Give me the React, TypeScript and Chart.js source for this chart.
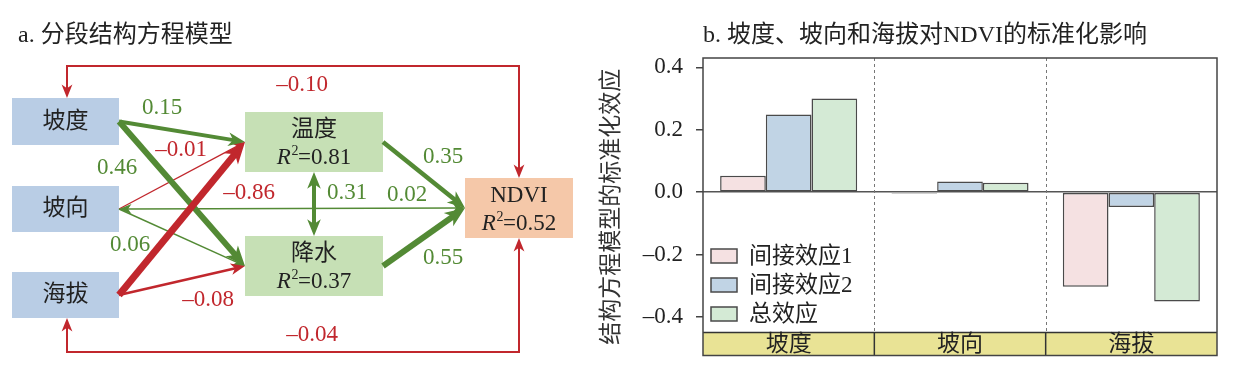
import React, { useEffect, useRef } from 'react';
import { Chart, registerables } from 'chart.js';

Chart.register(...registerables);

const SERIF = '"Liberation Serif", "Noto Sans CJK SC", serif';

// ---------------- Panel a: path diagram data ----------------
const nodeNames = ['坡度', '坡向', '海拔', '温度', '降水', 'NDVI'];
const nodeR2 = ['', '', '', '0.81', '0.37', '0.52'];
// layout of boxes in diagram units
const nodeLeft = [12, 12, 12, 245, 245, 465];
const nodeTop = [98, 186, 272, 112, 236, 178];
const nodeWidth = [107, 107, 107, 138, 138, 108];
const nodeHeight = [47, 46, 46, 60, 60, 60];
const nodeFill = ['#B9CDE5', '#B9CDE5', '#B9CDE5', '#C6E0B5', '#C6E0B5', '#F5C8A9'];

const edgeFrom = [1, 1, 1, 0, 0, 2, 2, 3, 3, 4, 5, 5];
const edgeTo = [3, 4, 5, 3, 4, 4, 3, 4, 5, 5, 0, 2];
const edgeCoef = [-0.01, 0.06, 0.02, 0.15, 0.46, -0.08, -0.86, 0.31, 0.35, 0.55, -0.1, -0.04];
const edgeRoute = ['lr', 'lr', 'lr', 'lr', 'lr', 'lr', 'lr', 'tb', 'lr', 'lr', 'loopTop', 'loopBottom'];
const edgeHeads = ['end', 'end', 'both', 'end', 'end', 'end', 'end', 'both', 'end', 'end', 'both', 'both'];
// styles / label placement
const edgeWidth = [1.3, 1.5, 1.5, 4, 6, 2.5, 7, 4, 4.5, 6, 2, 2];
const labelX = [181, 130, 407, 162, 117, 208, 249, 347, 443, 443, 302, 312];
const labelY = [150, 245, 195, 108, 168, 300, 193, 193, 157, 258, 85, 335];
const loopLevelTop = 66;
const loopLevelBottom = 352;

const GREEN = '#538A35';
const RED = '#C1272D';

// ---------------- Panel b: bar chart data ----------------
const categories = ['坡度', '坡向', '海拔'];
const seriesNames = ['间接效应1', '间接效应2', '总效应'];
const indirect1 = [0.053, -0.004, -0.303];
const indirect2 = [0.249, 0.034, -0.047];
const totalEffect = [0.3, 0.03, -0.35];
const yTickValues = [0.4, 0.2, 0, -0.2, -0.4];
const yAxisTitle = '结构方程模型的标准化效应';
const Y_MAX = 0.43;
const Y_MIN = -0.523;

const seriesFill = ['#F5E1E2', '#C1D4E5', '#D4EAD5'];
const BAR_BORDER = '#4a4a4a';

function fmtNum(v: number, digits: number) {
  if (Math.abs(v) < 1e-9) return (0).toFixed(digits);
  return (v < 0 ? '–' : '') + Math.abs(v).toFixed(digits);
}

type P = { x: number; y: number };

function moveToward(a: P, b: P, d: number): P {
  const dx = b.x - a.x;
  const dy = b.y - a.y;
  const L = Math.hypot(dx, dy) || 1;
  return { x: a.x + (dx / L) * d, y: a.y + (dy / L) * d };
}

function drawHead(ctx: CanvasRenderingContext2D, tip: P, prev: P, hl: number, hw: number, color: string) {
  const dx = tip.x - prev.x;
  const dy = tip.y - prev.y;
  const L = Math.hypot(dx, dy) || 1;
  const ux = dx / L;
  const uy = dy / L;
  const px = -uy;
  const py = ux;
  const bx = tip.x - ux * hl;
  const by = tip.y - uy * hl;
  const nx = tip.x - ux * hl * 0.72;
  const ny = tip.y - uy * hl * 0.72;
  ctx.beginPath();
  ctx.moveTo(tip.x, tip.y);
  ctx.lineTo(bx + (px * hw) / 2, by + (py * hw) / 2);
  ctx.lineTo(nx, ny);
  ctx.lineTo(bx - (px * hw) / 2, by - (py * hw) / 2);
  ctx.closePath();
  ctx.fillStyle = color;
  ctx.fill();
}

function drawArrowPath(ctx: CanvasRenderingContext2D, pts: P[], w: number, color: string, heads: string) {
  const hl = 10 + 1.7 * w;
  const hw = 8 + 1.4 * w;
  const line = pts.map((p) => ({ ...p }));
  const n = pts.length;
  const startHead = heads === 'both' || heads === 'start';
  const endHead = heads === 'both' || heads === 'end';
  if (endHead) line[n - 1] = moveToward(pts[n - 1], pts[n - 2], hl * 0.6);
  if (startHead) line[0] = moveToward(pts[0], pts[1], hl * 0.6);
  ctx.save();
  ctx.strokeStyle = color;
  ctx.lineWidth = w;
  ctx.lineCap = 'butt';
  ctx.lineJoin = 'miter';
  ctx.beginPath();
  ctx.moveTo(line[0].x, line[0].y);
  for (let i = 1; i < n; i++) ctx.lineTo(line[i].x, line[i].y);
  ctx.stroke();
  if (endHead) drawHead(ctx, pts[n - 1], pts[n - 2], hl, hw, color);
  if (startHead) drawHead(ctx, pts[0], pts[1], hl, hw, color);
  ctx.restore();
}

function drawR2(ctx: CanvasRenderingContext2D, cx: number, cy: number, val: string) {
  const fR = `italic 23px ${SERIF}`;
  const fS = `14px ${SERIF}`;
  const fN = `23px ${SERIF}`;
  ctx.font = fR;
  const wR = ctx.measureText('R').width;
  ctx.font = fS;
  const w2 = ctx.measureText('2').width;
  ctx.font = fN;
  const rest = '=' + val;
  const wRest = ctx.measureText(rest).width;
  const total = wR + w2 + wRest;
  let x = cx - total / 2;
  const yb = cy + 8;
  ctx.textAlign = 'left';
  ctx.textBaseline = 'alphabetic';
  ctx.fillStyle = '#222';
  ctx.font = fR;
  ctx.fillText('R', x, yb);
  x += wR;
  ctx.font = fS;
  ctx.fillText('2', x + 0.5, yb - 9);
  x += w2;
  ctx.font = fN;
  ctx.fillText(rest, x, yb);
}

const diagramPlugin = {
  id: 'pathDiagram',
  afterDraw(chart: any) {
    const ctx: CanvasRenderingContext2D = chart.ctx;
    const sx = chart.scales.x;
    const sy = chart.scales.y;
    const X = (v: number) => sx.getPixelForValue(v);
    const Y = (v: number) => sy.getPixelForValue(v);

    const box = (i: number) => {
      const l = X(nodeLeft[i]);
      const r = X(nodeLeft[i] + nodeWidth[i]);
      const t = Y(nodeTop[i]);
      const b = Y(nodeTop[i] + nodeHeight[i]);
      return { l, r, t, b, cx: (l + r) / 2, cy: (t + b) / 2 };
    };

    ctx.save();
    // boxes
    nodeNames.forEach((name, i) => {
      const bb = box(i);
      ctx.fillStyle = nodeFill[i];
      ctx.fillRect(bb.l, bb.t, bb.r - bb.l, bb.b - bb.t);
      ctx.fillStyle = '#222';
      ctx.font = `23px ${SERIF}`;
      ctx.textAlign = 'center';
      ctx.textBaseline = 'middle';
      if (nodeR2[i]) {
        ctx.fillText(name, bb.cx, bb.cy - 12);
        drawR2(ctx, bb.cx, bb.cy + 14, nodeR2[i]);
      } else {
        ctx.fillText(name, bb.cx, bb.cy);
      }
    });

    // edges
    edgeCoef.forEach((c, k) => {
      const a = box(edgeFrom[k]);
      const b = box(edgeTo[k]);
      const color = c < 0 ? RED : GREEN;
      let pts: P[];
      const route = edgeRoute[k];
      if (route === 'lr') {
        pts = [
          { x: a.r, y: a.cy },
          { x: b.l, y: b.cy },
        ];
      } else if (route === 'tb') {
        pts = [
          { x: a.cx, y: a.b },
          { x: b.cx, y: b.t },
        ];
      } else if (route === 'loopTop') {
        const ly = Y(loopLevelTop);
        pts = [
          { x: a.cx, y: a.t },
          { x: a.cx, y: ly },
          { x: b.cx + 1.5, y: ly },
          { x: b.cx + 1.5, y: b.t },
        ];
      } else {
        const ly = Y(loopLevelBottom);
        pts = [
          { x: a.cx, y: a.b },
          { x: a.cx, y: ly },
          { x: b.cx + 1.5, y: ly },
          { x: b.cx + 1.5, y: b.b },
        ];
      }
      drawArrowPath(ctx, pts, edgeWidth[k], color, edgeHeads[k]);
    });

    // labels
    edgeCoef.forEach((c, k) => {
      ctx.fillStyle = c < 0 ? RED : GREEN;
      ctx.font = `23px ${SERIF}`;
      ctx.textAlign = 'center';
      ctx.textBaseline = 'middle';
      ctx.fillText(fmtNum(c, 2), X(labelX[k]), Y(labelY[k]));
    });
    ctx.restore();
  },
};

const barDecorPlugin = {
  id: 'barDecor',
  afterDraw(chart: any) {
    const ctx: CanvasRenderingContext2D = chart.ctx;
    const area = chart.chartArea;
    const sx = chart.scales.x;
    const stripH = 23;
    const stripTop = area.bottom - stripH;
    ctx.save();
    // strip
    ctx.fillStyle = '#E9E395';
    ctx.fillRect(area.left, stripTop, area.right - area.left, stripH);
    ctx.strokeStyle = '#333';
    ctx.lineWidth = 1.5;
    ctx.beginPath();
    ctx.moveTo(area.left, stripTop);
    ctx.lineTo(area.right, stripTop);
    ctx.stroke();
    // separators
    for (let i = 0; i < categories.length - 1; i++) {
      const xb = (sx.getPixelForValue(i) + sx.getPixelForValue(i + 1)) / 2;
      ctx.save();
      ctx.strokeStyle = '#777';
      ctx.lineWidth = 1;
      ctx.setLineDash([3, 3]);
      ctx.beginPath();
      ctx.moveTo(Math.round(xb) + 0.5, area.top);
      ctx.lineTo(Math.round(xb) + 0.5, stripTop);
      ctx.stroke();
      ctx.restore();
      ctx.strokeStyle = '#333';
      ctx.lineWidth = 1.5;
      ctx.beginPath();
      ctx.moveTo(xb, stripTop);
      ctx.lineTo(xb, area.bottom);
      ctx.stroke();
    }
    // strip labels
    ctx.fillStyle = '#222';
    ctx.font = `23px ${SERIF}`;
    ctx.textAlign = 'center';
    ctx.textBaseline = 'middle';
    categories.forEach((c, i) => {
      ctx.fillText(c, sx.getPixelForValue(i), stripTop + stripH / 2 + 1);
    });
    // frame
    ctx.strokeStyle = '#444';
    ctx.lineWidth = 1.5;
    ctx.strokeRect(area.left, area.top, area.right - area.left, area.bottom - area.top);

    // legend
    const ds = chart.data.datasets;
    const lx = area.left + 8;
    const rowY = [256, 285, 314];
    ds.forEach((d: any, i: number) => {
      const cy = rowY[i];
      ctx.fillStyle = d.backgroundColor;
      ctx.fillRect(lx, cy - 7, 26, 14);
      ctx.strokeStyle = BAR_BORDER;
      ctx.lineWidth = 1.5;
      ctx.strokeRect(lx, cy - 7, 26, 14);
      ctx.fillStyle = '#222';
      ctx.font = `23px ${SERIF}`;
      ctx.textAlign = 'left';
      ctx.textBaseline = 'middle';
      ctx.fillText(d.label, lx + 38, cy + 1);
    });
    ctx.restore();
  },
};

export default function App() {
  const leftRef = useRef<HTMLCanvasElement>(null);
  const rightRef = useRef<HTMLCanvasElement>(null);

  useEffect(() => {
    document.body.style.margin = '0';
    const nodeCenters = nodeNames.map((_, i) => ({
      x: nodeLeft[i] + nodeWidth[i] / 2,
      y: nodeTop[i] + nodeHeight[i] / 2,
    }));
    const c1 = new Chart(leftRef.current as HTMLCanvasElement, {
      type: 'scatter',
      data: { datasets: [{ data: nodeCenters, pointRadius: 0 }] },
      options: {
        animation: false,
        responsive: false,
        events: [],
        layout: { padding: 0 },
        plugins: { legend: { display: false }, tooltip: { enabled: false } },
        scales: {
          x: { type: 'linear', min: 0, max: 590, display: false },
          y: { type: 'linear', min: 0, max: 367, reverse: true, display: false },
        },
      } as any,
      plugins: [diagramPlugin],
    });

    const seriesData = [indirect1, indirect2, totalEffect];
    const c2 = new Chart(rightRef.current as HTMLCanvasElement, {
      type: 'bar',
      data: {
        labels: categories,
        datasets: seriesNames.map((name, i) => ({
          label: name,
          data: seriesData[i],
          backgroundColor: seriesFill[i],
          borderColor: BAR_BORDER,
          borderWidth: 1.5,
          borderSkipped: false,
          categoryPercentage: 0.8,
          barPercentage: 1.0,
        })),
      },
      options: {
        animation: false,
        responsive: false,
        events: [],
        layout: { padding: { left: 0, right: 23, top: 58, bottom: 0 } },
        plugins: { legend: { display: false }, tooltip: { enabled: false } },
        scales: {
          x: { display: false, offset: true },
          y: {
            min: Y_MIN,
            max: Y_MAX,
            afterFit: (s: any) => {
              s.width = 113;
            },
            afterBuildTicks: (s: any) => {
              s.ticks = yTickValues.map((v) => ({ value: v }));
            },
            ticks: {
              font: { family: SERIF, size: 23, lineHeight: 1 },
              color: '#222',
              padding: 13,
              callback: (v: any) => fmtNum(Number(v), 1),
            },
            grid: {
              drawOnChartArea: true,
              color: (c: any) => (c.tick && Math.abs(c.tick.value) < 1e-9 ? '#555' : 'rgba(0,0,0,0)'),
              lineWidth: 1.5,
              tickLength: 7,
              tickColor: '#444',
              tickWidth: 1.5,
            },
            border: { display: false },
            title: {
              display: true,
              text: yAxisTitle,
              font: { family: SERIF, size: 23 },
              color: '#333',
              padding: { top: 8, bottom: 0 },
            },
          },
        },
      } as any,
      plugins: [barDecorPlugin],
    });
    return () => {
      c1.destroy();
      c2.destroy();
    };
  }, []);

  const titleStyle: React.CSSProperties = {
    position: 'absolute',
    top: 19,
    font: `24px ${SERIF}`,
    lineHeight: '30px',
    color: '#222',
    whiteSpace: 'nowrap',
  };

  return (
    <div style={{ position: 'relative', width: 1240, height: 367, background: '#fff', overflow: 'hidden' }}>
      <canvas ref={leftRef} width={590} height={367} style={{ position: 'absolute', left: 0, top: 0 }} />
      <canvas ref={rightRef} width={650} height={380} style={{ position: 'absolute', left: 590, top: 0 }} />
      <div style={{ ...titleStyle, left: 18 }}>a. 分段结构方程模型</div>
      <div style={{ ...titleStyle, left: 703 }}>b. 坡度、坡向和海拔对NDVI的标准化影响</div>
    </div>
  );
}
